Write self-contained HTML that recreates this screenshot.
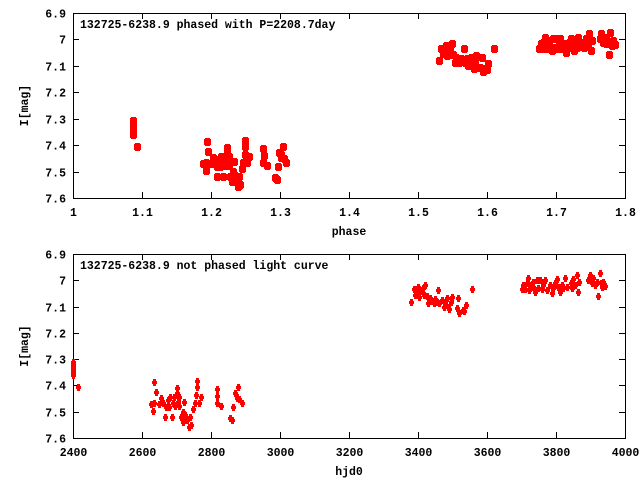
<!DOCTYPE html>
<html><head><meta charset="utf-8">
<style>
html,body{margin:0;padding:0;background:#fff;}
svg{display:block;}
text{font-family:"Liberation Mono",monospace;font-size:11.5px;font-weight:bold;fill:#000;}
</style></head>
<body>
<svg id="chart" width="640" height="480" viewBox="0 0 640 480" xmlns="http://www.w3.org/2000/svg"></svg>
<script>
const hjd = [2400,2400,2400,2400,2400,2400,2414,
2625,2635,2636,2633,2641,2650,2656,2660,2668,2670,2675,2677,2681,2687,2689,2693,2695,2701,2702,2704,2708,2708,2712,2718,2720,2722,2724,2731,2735,2739,2741,2749,2753,2757,2760,2760,2764,2770,2817,2818,2817,2828,2855,2861,2865,2869,2873,2875,2879,2882,2891,
3380,3387,3391,3398,3401,3404,3408,3414,3418,3421,3425,3430,3435,3440,3445,3449,3454,3459,3462,3469,3474,3478,3483,3488,3491,3495,3498,3512,3517,3519,3530,3533,3538,3556,
3701,3705,3710,3715,3720,3723,3727,3732,3736,3740,3744,3749,3754,3758,3763,3768,3773,3783,3787,3792,3797,3802,3807,3812,3816,3821,3826,3831,3843,3845,3850,3855,3860,3865,3868,
3894,3899,3903,3908,3913,3918,3923,3928,3930,3934,3937,3942];
const mag = [7.31,7.32,7.33,7.34,7.35,7.36,7.406,
7.47,7.468,7.388,7.496,7.426,7.47,7.449,7.468,7.521,7.483,7.455,7.481,7.443,7.521,7.468,7.445,7.478,7.411,7.428,7.462,7.445,7.48,7.521,7.538,7.50,7.462,7.513,7.531,7.557,7.519,7.551,7.491,7.468,7.436,7.407,7.383,7.468,7.443,7.415,7.44,7.468,7.478,7.525,7.531,7.483,7.43,7.436,7.449,7.407,7.453,7.468,
7.081,7.035,7.056,7.05,7.024,7.062,7.04,7.031,7.056,7.019,7.06,7.088,7.069,7.078,7.088,7.073,7.081,7.037,7.088,7.075,7.10,7.081,7.069,7.10,7.111,7.081,7.062,7.107,7.069,7.123,7.113,7.116,7.094,7.035,
7.035,7.018,7.035,7.009,6.993,7.037,7.018,7.005,7.035,7.045,6.999,7.031,6.999,7.035,7.018,6.999,7.037,7.018,7.05,7.031,7.012,6.997,7.024,7.043,7.018,7.031,6.993,7.024,7.012,7.031,6.997,7.018,6.98,7.043,7.005,
6.999,6.98,7.012,6.993,7.018,7.005,7.06,6.974,7.012,7.024,7.005,7.022];
const period = 2208.7;
const epoch = 2208;
const yTicks = [6.9,7,7.1,7.2,7.3,7.4,7.5,7.6];
const phaseTicks = [1,1.1,1.2,1.3,1.4,1.5,1.6,1.7,1.8];
const hjdTicks = [2400,2600,2800,3000,3200,3400,3600,3800,4000];

const NS="http://www.w3.org/2000/svg";
const svg=document.getElementById('chart');
function mk(tag,attrs,parent){const e=document.createElementNS(NS,tag);for(const k in attrs)e.setAttribute(k,attrs[k]);(parent||svg).appendChild(e);return e;}

function panel(cfg){
  const L=73,R=625,T=cfg.top,B=cfg.bottom;
  const g=mk('g',{});
  
  
  const xs=v=>L+(v-cfg.xmin)/(cfg.xmax-cfg.xmin)*(R-L);
  const ys=v=>T+(v-6.9)/(0.7)*(B-T);
  const ax=mk('g',{},g);
  
  
  yTicks.forEach(t=>{
    const y=Math.round(ys(t))+0.5;
    mk('line',{x1:L,y1:y,x2:L+6,y2:y,stroke:'#000'},ax);
    mk('line',{x1:R,y1:y,x2:R-6,y2:y,stroke:'#000'},ax);
    const tx=mk('text',{x:L-7,y:y+4,'text-anchor':'end'},ax);
    
    
    tx.textContent=(t===7?'7':t.toFixed(1));
  });
  cfg.xticks.forEach(t=>{
    const x=Math.round(xs(t))+0.5;
    mk('line',{x1:x,y1:B,x2:x,y2:B-6,stroke:'#000'},ax);
    mk('line',{x1:x,y1:T,x2:x,y2:T+6,stroke:'#000'},ax);
    const tx=mk('text',{x:x,y:B+18,'text-anchor':'middle'},ax);
    
    
    tx.textContent=cfg.fmt(t);
  });
  mk('rect',{x:L+0.5,y:T+0.5,width:R-L,height:B-T,fill:'none',stroke:'#000'},ax);
  const xt=mk('text',{x:(L+R)/2,y:B+37,'text-anchor':'middle'},g);
  
  
  xt.textContent=cfg.xlabel;
  const yt=mk('text',{x:0,y:0,'text-anchor':'middle',transform:'translate(28,'+((T+B)/2)+') rotate(-90)'},g);
  
  
  yt.textContent='I[mag]';
  const ti=mk('text',{x:80,y:T+15},g);
  
  
  ti.textContent=cfg.title;
  const pts=mk('g',{fill:'#f00'},g);
  
  
  for(let i=0;i<hjd.length;i++){
    const xv=cfg.xval(hjd[i]);
    const x=Math.round(xs(xv)), y=Math.round(ys(mag[i]));
    const p=mk('path',{d:cfg.marker(x,y)},pts);
    
    
  }
}
panel({name:'phased-plot',top:13,bottom:198,xmin:1,xmax:1.8,xticks:phaseTicks,
  fmt:t=>(t===1?'1':t.toFixed(1)),xlabel:'phase',
  title:'132725-6238.9 phased with P=2208.7day',
  xval:h=>1+(h-epoch)/period,
  marker:(x,y)=>`M${x-2},${y-4}h5v1h1v6h-1v1h-5v-1h-1v-6h1z`});
panel({name:'unphased-plot',top:254,bottom:438,xmin:2400,xmax:4000,xticks:hjdTicks,
  fmt:t=>String(t),xlabel:'hjd0',
  title:'132725-6238.9 not phased light curve',
  xval:h=>h,
  marker:(x,y)=>`M${x-1},${y-3}h3v2h1v3h-1v2h-3v-2h-1v-3h1z`});
</script>
</body></html>
